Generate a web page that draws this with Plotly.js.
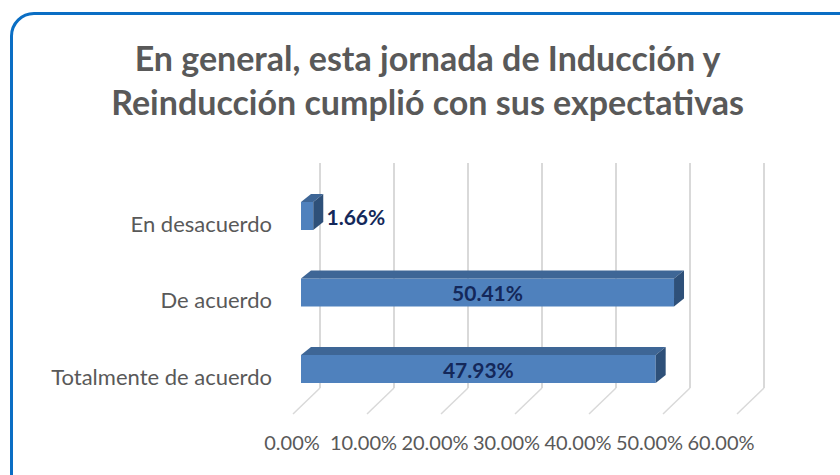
<!DOCTYPE html>
<html>
<head>
<meta charset="utf-8">
<script src="https://cdn.plot.ly/plotly-3.0.1.min.js"></script>
<style>
html, body { margin:0; padding:0; background:#ffffff; width:840px; height:475px; overflow:hidden; }
#chart { position:absolute; left:0; top:0; width:840px; height:475px; }
#frame { position:absolute; left:10px; top:12px; width:880px; height:500px; border:3px solid #0a6ec4;
         border-radius:24px; box-sizing:border-box; pointer-events:none; }
</style>
</head>
<body>
<div id="chart"></div>
<div id="frame"></div>
<script>
// ---- data ----
const categories = ['Totalmente de acuerdo', 'De acuerdo', 'En desacuerdo'];
const values = [0.4793, 0.5041, 0.0166];
const tickValues = [0, 0.1, 0.2, 0.3, 0.4, 0.5, 0.6];
const tickLabels = ['0.00%', '10.00%', '20.00%', '30.00%', '40.00%', '50.00%', '60.00%'];
const titleText = 'En general, esta jornada de Inducción y<br>Reinducción cumplió con sus expectativas';

// ---- style ----
const W = 840, H = 475;
const FONT = 'Lato, "Open Sans", sans-serif';
const BAR_W = 0.366;          // bar thickness in category units
const DX = 0.0135;            // 3D depth, x units
const DY = 0.105;             // 3D depth, category units
const LABEL_SHIFT = 0.105;    // category labels sit slightly lower
const FRONT = '#4f81bd', TOP = '#3e6696', SIDE = '#2e5079';
const GRID = '#d9d9d9';

const pos = categories.map((c, i) => i);
const labelText = values.map((v, i) => (v < 0.05 ? '\u00a0\u00a0' : '') + (v * 100).toFixed(2) + '%');
const textPos = values.map(v => v < 0.05 ? 'outside' : 'inside');

const traces = [
  // back-wall grid carrier (invisible)
  { type:'scatter', x:[0], y:[0], xaxis:'x', yaxis:'y', mode:'markers', marker:{opacity:0},
    hoverinfo:'skip', showlegend:false },
  // front bars
  { type:'bar', orientation:'h', x:values, y:pos, xaxis:'x2', yaxis:'y2', width:BAR_W,
    marker:{color:FRONT, line:{width:0}},
    text:labelText, textposition:textPos, insidetextanchor:'middle', constraintext:'none',
    textfont:{family:FONT, size:21, color:'#14285a', weight:'bold'},
    cliponaxis:false, hoverinfo:'skip', showlegend:false },
  // tick label carrier (invisible)
  { type:'scatter', x:[0], y:[0], xaxis:'x3', yaxis:'y2', mode:'markers', marker:{opacity:0},
    hoverinfo:'skip', showlegend:false }
];

const shapes = [];
// floor diagonals from the back wall
tickValues.forEach(v => {
  shapes.push({ type:'line', xref:'x', yref:'y domain', xsizemode:'pixel', ysizemode:'pixel',
    xanchor:v, yanchor:0, x0:0, x1:-27, y0:0, y1:-26, layer:'below',
    line:{color:GRID, width:1.5} });
});
// 3D faces of bars
values.forEach((v, i) => {
  const t = pos[i] + BAR_W / 2, b = pos[i] - BAR_W / 2;
  shapes.push({ type:'path', xref:'x2', yref:'y2', layer:'above', line:{width:0}, fillcolor:TOP,
    path:`M0,${t} L${v},${t} L${v + DX},${t + DY} L${DX},${t + DY} Z` });
  shapes.push({ type:'path', xref:'x2', yref:'y2', layer:'above', line:{width:0}, fillcolor:SIDE,
    path:`M${v},${t} L${v + DX},${t + DY} L${v + DX},${b + DY} L${v},${b} Z` });
});

// back wall: 0 -> 320px, 0.6 -> 764px ; padded so edge gridlines are kept
const PX = 444 / 0.6, PADV = 0.05;
const layout = {
  width:W, height:H,
  margin:{l:0, r:0, t:0, b:0, pad:0},
  paper_bgcolor:'rgba(0,0,0,0)', plot_bgcolor:'rgba(0,0,0,0)',
  showlegend:false, hovermode:false,
  title:{ text:titleText, x:0.509, xanchor:'center', y:(H - 71) / H, yanchor:'top',
          font:{family:FONT, size:34, color:'#595959', weight:'bold'} },
  // back wall (gridlines)
  xaxis:{ domain:[(320 - PADV * PX) / W, (764 + PADV * PX) / W], range:[-PADV, 0.6 + PADV],
          tickvals:tickValues, showgrid:true,
          gridcolor:GRID, gridwidth:1.5, showticklabels:false, zeroline:false, showline:false,
          ticks:'', anchor:'y', fixedrange:true },
  yaxis:{ domain:[(H - 388) / H, (H - 163) / H], range:[0, 1], showgrid:false, zeroline:false,
          showline:false, showticklabels:false, ticks:'', anchor:'x', fixedrange:true },
  // front bars
  xaxis2:{ domain:[301 / W, 745 / W], range:[0, 0.6], showgrid:false, zeroline:false, showline:false,
           showticklabels:false, ticks:'', anchor:'y2', fixedrange:true },
  yaxis2:{ domain:[(H - 407.25) / H, (H - 177.75) / H], range:[-0.5, 2.5],
           tickvals:pos.map(p => p - LABEL_SHIFT), ticktext:categories, ticks:'',
           showgrid:false, zeroline:false, showline:false, ticklabelstandoff:28,
           tickfont:{family:FONT, size:22, color:'#595959'}, anchor:'x2', fixedrange:true },
  // tick labels along the front floor edge
  xaxis3:{ domain:[292 / W, 721 / W], range:[0, 0.6], tickvals:tickValues, ticktext:tickLabels,
           showgrid:false, zeroline:false, showline:false, ticks:'', anchor:'free',
           position:(H - 429) / H,
           tickfont:{family:FONT, size:20, color:'#595959'}, fixedrange:true },
  shapes:shapes
};

Plotly.newPlot('chart', traces, layout, {staticPlot:true, displayModeBar:false});
</script>
</body>
</html>
